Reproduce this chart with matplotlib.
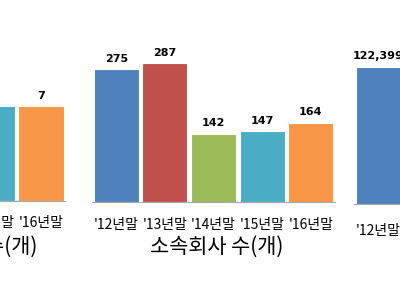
import matplotlib.pyplot as plt

plt.rcParams['font.family'] = ['Noto Sans CJK KR', 'DejaVu Sans']

# Data
years = ["'12년말", "'13년말", "'14년말", "'15년말", "'16년말"]
groups = [6, 7, 7, 7, 7]                      # left panel (mostly cut off)
affiliates = [275, 287, 142, 147, 164]        # middle panel
assets = [122399, 119000, 101000, 98000, 95000]  # right panel (mostly cut off)
colors = ['#4F81BD', '#C0504D', '#9BBB59', '#4BACC6', '#F79646']

W, H = 400, 300
fig = plt.figure(figsize=(4, 3), dpi=100)


def panel(left, base, height, ymax, values, fmt, pad):
    ax = fig.add_axes([left / W, (H - base) / H, 243 / W, height / H])
    x = range(len(values))
    ax.bar(x, values, width=0.93, color=colors, edgecolor='white', linewidth=0.8)
    for i, v in enumerate(values):
        ax.annotate(fmt(v), (i, v), xytext=(0, 4), textcoords='offset points',
                    ha='center', va='bottom', fontsize=8, fontweight='bold',
                    family=['DejaVu Sans'])
    ax.set_xlim(-0.5, 4.5)
    ax.set_ylim(0, ymax)
    ax.set_xticks(list(x))
    ax.set_xticklabels(years, fontsize=10)
    ax.tick_params(axis='x', length=0, pad=pad)
    ax.set_yticks([])
    for s in ['top', 'left', 'right']:
        ax.spines[s].set_visible(False)
    ax.spines['bottom'].set_color('#a6a6a6')
    ax.set_facecolor('none')
    return ax


panel(-177.7, 201.3, 171, 171 / 13.6, groups, lambda v: f'{v}', 10.5)
panel(92, 202.3, 172, 172 / 0.484, affiliates, lambda v: f'{v}', 11)
panel(354, 204.3, 174, 122399 * 174 / 137.3, assets, lambda v: f'{v:,}', 14)

# Panel titles
fig.text(37 / W, 1 - 247 / H, '기업집단 수(개)', ha='right', va='center', fontsize=15)
fig.text(217 / W, 1 - 247 / H, '소속회사 수(개)', ha='center', va='center', fontsize=15)

fig.savefig('out.png', dpi=100, facecolor='white')
